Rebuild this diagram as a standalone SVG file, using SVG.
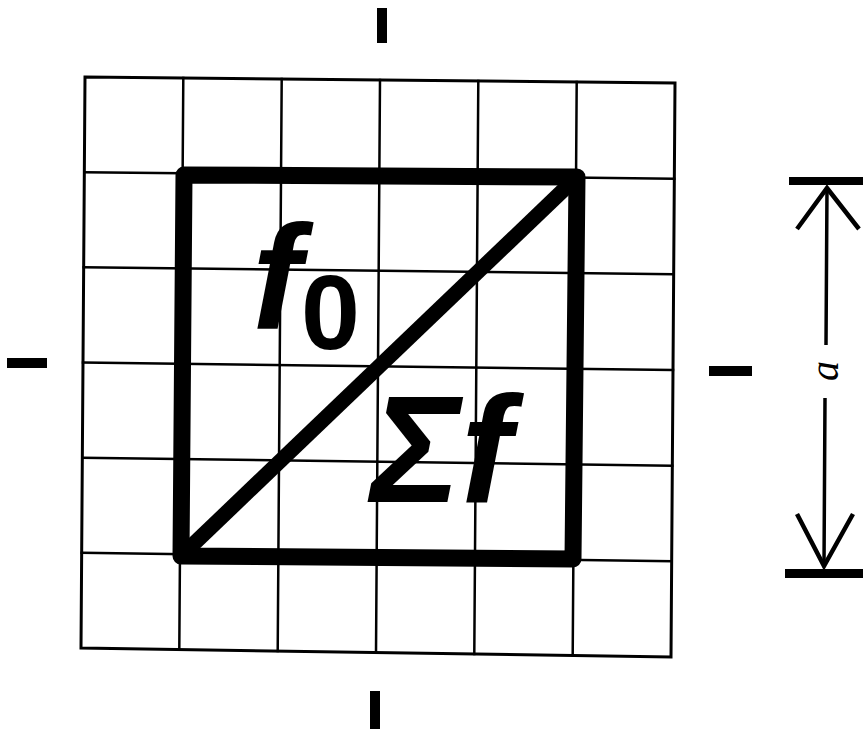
<svg xmlns="http://www.w3.org/2000/svg" width="863" height="731" viewBox="0 0 863 731">
<style>
.grid{stroke:#000;stroke-width:2.5;fill:none;stroke-linecap:square}
.border{stroke:#000;stroke-width:3;fill:none}
.thick{stroke:#000;stroke-width:17;fill:none;stroke-linejoin:round}
.tick{fill:#000}
.lbl{font-family:"Liberation Sans",Arial,sans-serif;font-weight:bold;fill:#000}
.dim{stroke:#000;fill:none}
</style>
<rect width="863" height="731" fill="#fff"/>
<g id="grid">
<path class="grid" d="M183.3,78 L179.3,649.5 M281.7,79 L277.7,651 M380,80 L376,652.5 M478.3,81 L474.3,654 M576.7,82 L572.7,655.5"/>
<path class="grid" d="M84.3,172.2 L674.3,178.7 M83.7,267.3 L673.7,274.3 M83,362.5 L673,370 M82.3,457.7 L672.3,465.7 M81.7,552.8 L671.7,561.3"/>
<path class="border" d="M85,77 L675,83 L671,657 L81,648 Z"/>
</g>
<g id="square">
<path class="thick" d="M184,175 L577,177 L573,559 L181,556 Z"/>
<path class="thick" d="M181,556 L577,177" style="stroke-width:15"/>
</g>
<g id="label-f0">
<text class="lbl" x="252" y="329" font-size="148" font-style="italic">f</text>
<text class="lbl" x="301" y="349" font-size="106">0</text>
</g>
<g id="label-sumf">
<text class="lbl" x="371" y="502" font-size="152" font-style="italic">Σf</text>
</g>
<g id="ticks">
<rect class="tick" x="377" y="8" width="10" height="35"/>
<rect class="tick" x="7" y="358" width="40" height="10"/>
<rect class="tick" x="709" y="366" width="43" height="10"/>
<rect class="tick" x="370" y="691" width="10" height="38"/>
</g>
<g id="dimension">
<rect class="tick" x="789" y="177" width="74" height="8"/>
<rect class="tick" x="785" y="569" width="78" height="9"/>
<path class="dim" stroke-width="3.5" d="M827,188 L826,345 M825,398 L824,566"/>
<path class="dim" stroke-width="4.5" d="M797,229 L827,188 L859,229 M797,514 L824,566 L853,514"/>
<text x="0" y="0" transform="translate(838,371) rotate(-90)" text-anchor="middle" font-family="Liberation Serif,serif" font-style="italic" font-size="40" fill="#000">a</text>
</g>
</svg>
